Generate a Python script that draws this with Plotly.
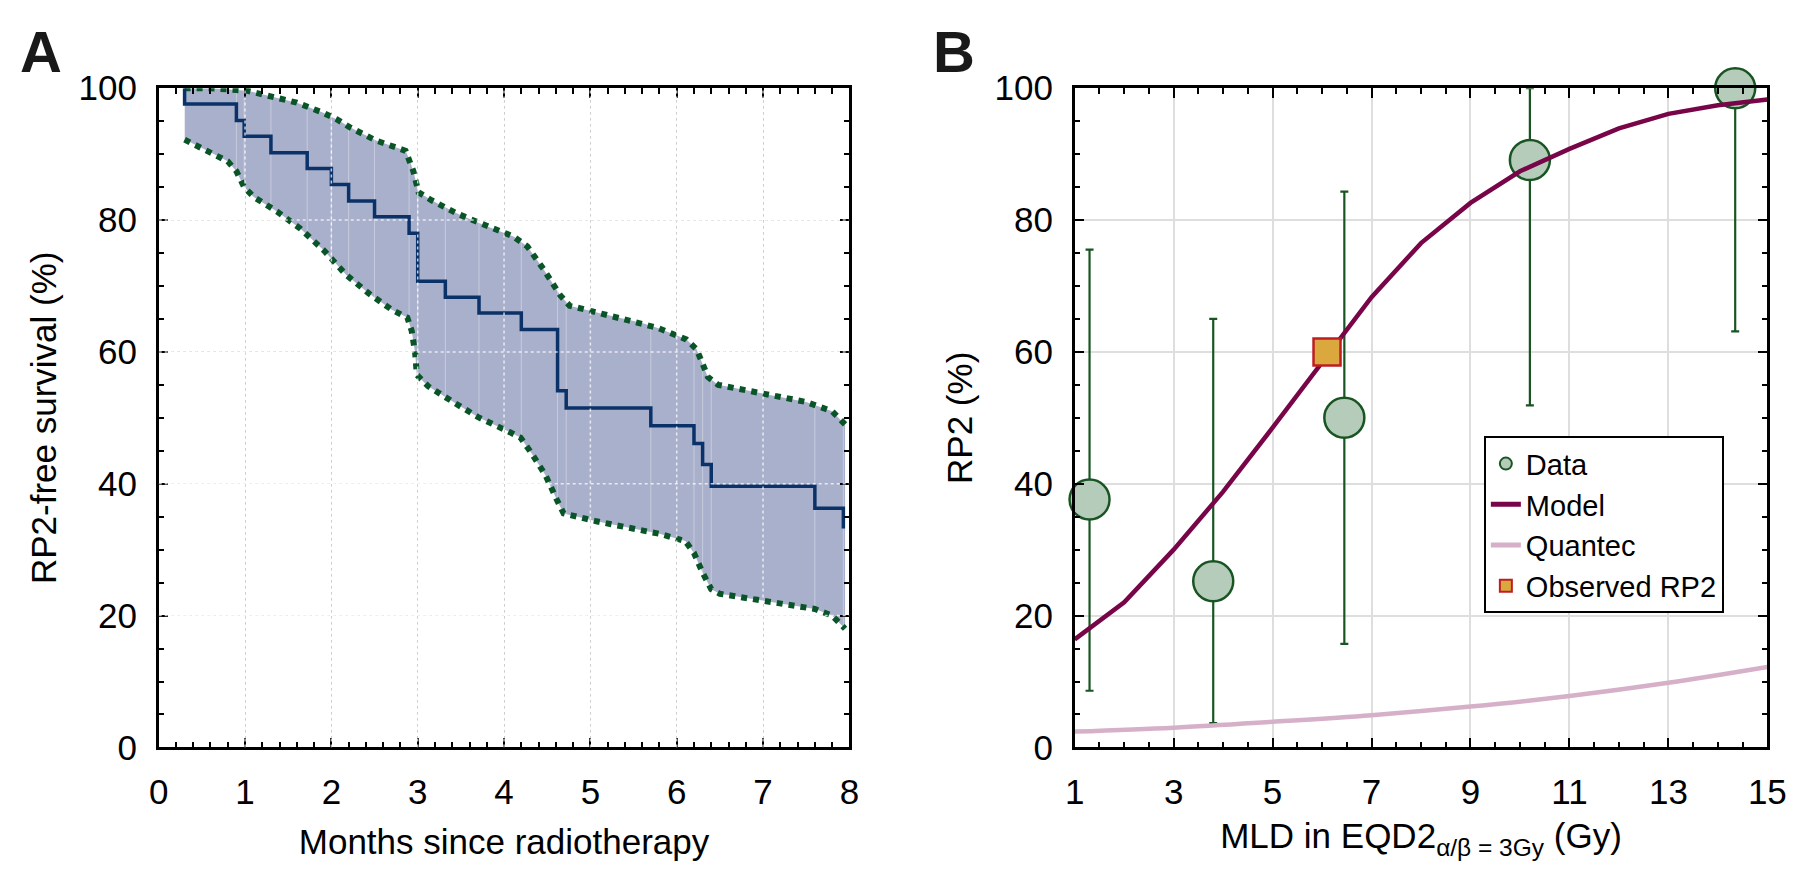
import numpy as np
import plotly.graph_objects as go

# ---------------- Panel A data (Kaplan-Meier, RP2-free survival) ----------------
km_time = [0.30, 0.30, 0.90, 0.99, 1.30, 1.72, 2.00, 2.20, 2.50, 2.90, 3.00, 3.32, 3.71,
           4.20, 4.62, 4.72, 5.70, 6.20, 6.30, 6.40, 7.60, 7.93]
km_surv = [100.0, 97.6, 95.1, 92.7, 90.2, 87.8, 85.4, 82.9, 80.5, 78.0, 70.7, 68.3, 65.9,
           63.4, 54.1, 51.5, 48.8, 46.1, 42.9, 39.6, 36.3, 33.2]

ci_up_time = [0.30, 0.60, 1.03, 1.30, 1.60, 1.90, 2.06, 2.21, 2.51, 2.86, 2.90, 2.95, 3.01,
              3.16, 3.47, 3.77, 4.11, 4.27, 4.46, 4.65, 4.76, 5.10, 5.60, 5.79, 6.11, 6.23,
              6.30, 6.36, 6.48, 7.01, 7.50, 7.80, 7.95]
ci_up_val = [100.0, 100.0, 99.6, 98.7, 97.8, 96.3, 95.3, 94.1, 92.1, 90.5, 89.3, 87.4, 84.2,
             83.0, 80.9, 79.2, 77.5, 76.0, 72.5, 68.6, 67.0, 65.9, 64.4, 63.6, 61.9, 60.4,
             58.2, 56.2, 55.0, 53.6, 52.4, 51.0, 49.0]

ci_lo_time = [0.30, 0.49, 0.80, 0.90, 0.99, 1.10, 1.37, 1.64, 1.92, 2.17, 2.44, 2.70, 2.88,
              2.93, 2.97, 2.99, 3.12, 3.41, 3.70, 4.04, 4.19, 4.32, 4.48, 4.61, 4.69, 5.07,
              5.45, 5.80, 6.10, 6.20, 6.30, 6.40, 6.50, 7.00, 7.60, 7.80, 7.95]
ci_lo_val = [92.2, 91.0, 88.9, 87.4, 85.0, 83.5, 81.3, 78.7, 75.3, 71.7, 68.8, 66.4, 65.2,
             63.2, 59.9, 56.5, 54.8, 52.4, 50.1, 48.0, 47.0, 44.6, 41.3, 37.6, 35.5, 34.3,
             33.3, 32.4, 31.3, 29.5, 26.5, 24.0, 23.3, 22.3, 21.0, 20.0, 18.0]

# ---------------- Panel B data (RP2 vs MLD) ----------------
mld_bins = [1.3, 3.8, 6.45, 10.2, 14.35]
rp2_data = [37.6, 25.2, 50.0, 89.1, 100.0]
rp2_hi = [75.5, 65.0, 84.3, 100.0, 100.0]
rp2_lo = [8.6, 3.7, 15.7, 51.9, 63.1]

model_x = [1, 2, 3, 4, 5, 6, 7, 8, 9, 10, 11, 12, 13, 14, 15]
model_y = [16.4, 22.0, 30.0, 38.8, 48.5, 58.5, 68.3, 76.5, 82.6, 87.4, 90.8, 93.9, 96.1, 97.4, 98.3]

quantec_x = [1, 3, 5, 7, 9, 11, 13, 15]
quantec_y = [2.4, 3.0, 3.9, 4.9, 6.2, 7.8, 9.8, 12.2]

observed_x = [6.1]
observed_y = [60.0]

# ---------------- styling ----------------
FONT = "Liberation Sans"
TICK_FS = 35
W, H = 1800, 875
A_DOM = [143 / W, 845 / W]
B_DOM = [1074 / W, 1778 / W]
Y_DOM = [(H - 753) / H, (H - 63) / H]

fill_col = "rgb(169,176,203)"
km_col = "rgb(10,50,105)"
ci_col = "rgb(10,85,40)"
green_edge = "rgb(25,85,35)"
circle_fill = "rgb(182,204,186)"
model_col = "rgb(120,5,72)"
quantec_col = "rgb(214,176,201)"

fig = go.Figure()

# CI band (polygon built from the two CI arrays)
band_x = ci_up_time + ci_lo_time[::-1]
band_y = ci_up_val + ci_lo_val[::-1]
fig.add_trace(go.Scatter(x=band_x, y=band_y, fill="toself", fillcolor=fill_col,
                         line=dict(width=0), mode="lines", showlegend=False,
                         hoverinfo="skip", xaxis="x", yaxis="y"))

# faint seams inside the band at the event times (patch edges)
seam_x, seam_y = [], []
for t in sorted(set(km_time[1:])):
    lo = float(np.interp(t, ci_lo_time, ci_lo_val))
    hi = float(np.interp(t, ci_up_time, ci_up_val))
    seam_x += [t, t, None]
    seam_y += [lo, hi, None]
fig.add_trace(go.Scatter(x=seam_x, y=seam_y, mode="lines",
                         line=dict(color="rgba(255,255,255,0.35)", width=1),
                         showlegend=False, hoverinfo="skip", xaxis="x", yaxis="y"))

fig.add_trace(go.Scatter(x=ci_up_time, y=ci_up_val, mode="lines",
                         line=dict(color=ci_col, width=6, dash="dot"),
                         showlegend=False, xaxis="x", yaxis="y"))
fig.add_trace(go.Scatter(x=ci_lo_time, y=ci_lo_val, mode="lines",
                         line=dict(color=ci_col, width=6, dash="dot"),
                         showlegend=False, xaxis="x", yaxis="y"))
fig.add_trace(go.Scatter(x=km_time, y=km_surv, mode="lines", line_shape="hv",
                         line=dict(color=km_col, width=3.5),
                         showlegend=False, xaxis="x", yaxis="y"))

# Panel B traces
err_plus = [h - v for h, v in zip(rp2_hi, rp2_data)]
err_minus = [v - l for v, l in zip(rp2_data, rp2_lo)]
fig.add_trace(go.Scatter(x=mld_bins, y=rp2_data, mode="markers", name="Data",
                         marker=dict(size=40, color=circle_fill,
                                     line=dict(color=green_edge, width=2.5)),
                         error_y=dict(type="data", array=err_plus, arrayminus=err_minus,
                                      color=green_edge, thickness=2.2, width=4),
                         cliponaxis=False, xaxis="x2", yaxis="y2"))
fig.add_trace(go.Scatter(x=model_x, y=model_y, mode="lines", name="Model",
                         line=dict(color=model_col, width=4.5),
                         xaxis="x2", yaxis="y2"))
fig.add_trace(go.Scatter(x=quantec_x, y=quantec_y, mode="lines", name="Quantec",
                         line=dict(color=quantec_col, width=4.5, shape="spline"),
                         xaxis="x2", yaxis="y2"))
fig.add_trace(go.Scatter(x=observed_x, y=observed_y, mode="markers", name="Observed RP2",
                         marker=dict(symbol="square", size=27, color="rgb(218,168,60)",
                                     line=dict(color="rgb(190,30,35)", width=2.5)),
                         xaxis="x2", yaxis="y2"))

axis_common = dict(showline=True, linecolor="black", linewidth=2.5, mirror="ticks",
                   ticks="inside", ticklen=10, tickwidth=2, tickcolor="black",
                   tickfont=dict(family=FONT, size=TICK_FS, color="black"),
                   zeroline=False, ticklabelstandoff=12)

# white dotted grid overlay drawn above the band (panel A)
shapes = []
for gx in [1, 2, 3, 4, 5, 6, 7]:
    shapes.append(dict(type="line", xref="x", yref="y", x0=gx, x1=gx, y0=0, y1=100,
                       layer="above", line=dict(color="rgba(255,255,255,0.75)", width=1.5, dash="dot")))
for gy in [20, 40, 60, 80]:
    shapes.append(dict(type="line", xref="x", yref="y", x0=0, x1=8, y0=gy, y1=gy,
                       layer="above", line=dict(color="rgba(255,255,255,0.75)", width=1.5, dash="dot")))

fig.update_layout(
    width=W, height=H, paper_bgcolor="white", plot_bgcolor="white",
    margin=dict(l=0, r=0, t=0, b=0),
    font=dict(family=FONT, color="black"),
    xaxis=dict(domain=A_DOM, range=[0, 8], dtick=1, tick0=0,
               showgrid=True, gridcolor="rgb(205,205,205)", gridwidth=1, griddash="dot",
               minor=dict(dtick=0.2, ticks="inside", ticklen=6, tickwidth=2, tickcolor="black", showgrid=False),
               title=dict(text="Months since radiotherapy", font=dict(family=FONT, size=TICK_FS), standoff=20),
               anchor="y", **axis_common),
    yaxis=dict(domain=Y_DOM, range=[0, 100], dtick=20, tick0=0,
               showgrid=True, gridcolor="rgb(205,205,205)", gridwidth=1, griddash="dot",
               minor=dict(dtick=5, ticks="inside", ticklen=6, tickwidth=2, tickcolor="black", showgrid=False),
               title=dict(text="RP2-free survival (%)", font=dict(family=FONT, size=TICK_FS), standoff=12),
               anchor="x", **axis_common),
    xaxis2=dict(domain=B_DOM, range=[1, 15], dtick=2, tick0=1,
                showgrid=True, gridcolor="rgb(222,222,222)", gridwidth=2,
                minor=dict(dtick=0.5, ticks="inside", ticklen=6, tickwidth=2, tickcolor="black", showgrid=False),
                title=dict(text="MLD in EQD2<sub>α/β = 3Gy</sub> (Gy)", font=dict(family=FONT, size=TICK_FS), standoff=14),
                anchor="y2", **axis_common),
    yaxis2=dict(domain=Y_DOM, range=[0, 100], dtick=20, tick0=0,
                showgrid=True, gridcolor="rgb(222,222,222)", gridwidth=2,
                minor=dict(dtick=5, ticks="inside", ticklen=6, tickwidth=2, tickcolor="black", showgrid=False),
                title=dict(text="RP2 (%)", font=dict(family=FONT, size=TICK_FS), standoff=12),
                anchor="x2", **axis_common),
    legend=dict(x=B_DOM[0] + (9.27 - 1) / 14 * (B_DOM[1] - B_DOM[0]),
                y=Y_DOM[0] + 0.472 * (Y_DOM[1] - Y_DOM[0]),
                xanchor="left", yanchor="top", bgcolor="white",
                bordercolor="black", borderwidth=2,
                font=dict(family=FONT, size=29, color="black"),
                itemsizing="constant", tracegroupgap=0),
    shapes=shapes,
    annotations=[
        dict(text="<b>A</b>", x=0.0, y=1 - 25 / H, xref="paper", yref="paper",
             xanchor="left", yanchor="middle", showarrow=False,
             font=dict(family=FONT, size=58, color="rgb(25,25,25)")),
        dict(text="<b>B</b>", x=928 / W, y=1 - 25 / H, xref="paper", yref="paper",
             xanchor="left", yanchor="middle", showarrow=False,
             font=dict(family=FONT, size=58, color="rgb(25,25,25)")),
    ],
)

fig.write_html("out.html")
